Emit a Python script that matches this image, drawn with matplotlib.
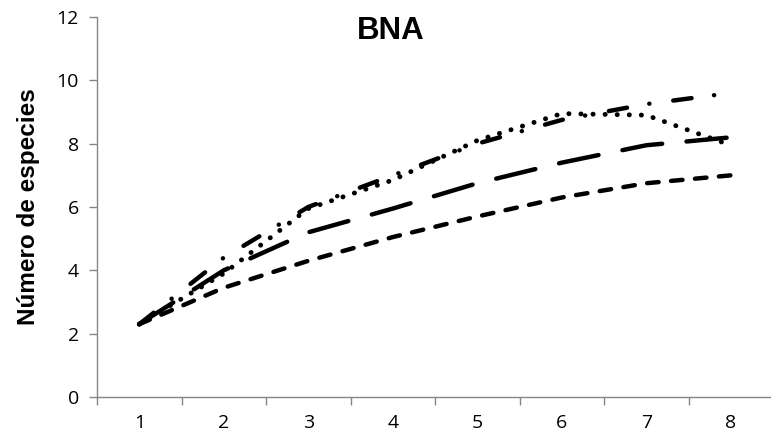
import matplotlib
matplotlib.use("Agg")
import matplotlib.pyplot as plt

plt.rcParams['lines.scale_dashes'] = False

x = [1, 2, 3, 4, 5, 6, 7, 8]
x_labels = ["1", "2", "3", "4", "5", "6", "7", "8"]
y_ticks = [0, 2, 4, 6, 8, 10, 12]

serie_punteada = [2.3, 3.9, 5.95, 6.85, 8.1, 8.95, 8.9, 7.95]
serie_raya_punto = [2.3, 4.4, 6.0, 7.0, 8.0, 8.75, 9.25, 9.6]
serie_raya_larga = [2.3, 4.0, 5.2, 5.95, 6.75, 7.4, 7.95, 8.2]
serie_raya_corta = [2.3, 3.45, 4.3, 5.05, 5.7, 6.3, 6.75, 7.0]

title = "BNA"
ylabel = "Número de especies"

axis_color = "#868686"
lw = 3.2

fig = plt.figure(figsize=(7.71, 4.44), dpi=100)
ax = fig.add_axes([97/771, 47/444, 676/771, 380/444])

ax.plot(x, serie_raya_corta, color="black", lw=lw, dashes=(8.3, 9.0),
        dash_capstyle="round")
ax.plot(x, serie_raya_larga, color="black", lw=lw, dashes=(29, 17.6),
        dash_capstyle="round")
ax.plot(x, serie_raya_punto, color="black", lw=lw,
        dashes=(13.3, 16.3, 0.1, 17.3), dash_capstyle="round")
ax.plot(x, serie_punteada, color="black", lw=lw * 1.1, dashes=(0.1, 8.6),
        dash_capstyle="round")

ax.set_xlim(0.5, 8.5)
ax.set_ylim(0, 12)

for s in ["top", "right"]:
    ax.spines[s].set_visible(False)
for s in ["left", "bottom"]:
    ax.spines[s].set_color(axis_color)
    ax.spines[s].set_linewidth(1.0)

ax.set_yticks(y_ticks)
ax.set_yticklabels([str(v) for v in y_ticks])
ax.tick_params(axis="y", direction="out", length=6, width=1.0,
               color=axis_color, pad=7, labelsize=14)

ax.set_xticks(x)
ax.set_xticklabels(x_labels)
ax.tick_params(axis="x", which="major", length=0, pad=12, labelsize=14)
ax.set_xticks([v + 0.5 for v in [0] + x], minor=True)
ax.tick_params(axis="x", which="minor", direction="out", length=6, width=1.0,
               color=axis_color)

for lab in ax.get_xticklabels() + ax.get_yticklabels():
    lab.set_fontfamily("Open Sans")

ax.set_ylabel(ylabel, fontsize=17.5, fontweight="bold",
              fontfamily="Liberation Sans", labelpad=12)
fig.text(391/771, 1 - 31/444, title, fontsize=22.5, fontweight="bold",
         fontfamily="Liberation Sans", ha="center", va="center")

fig.savefig("out.png", dpi=100)
